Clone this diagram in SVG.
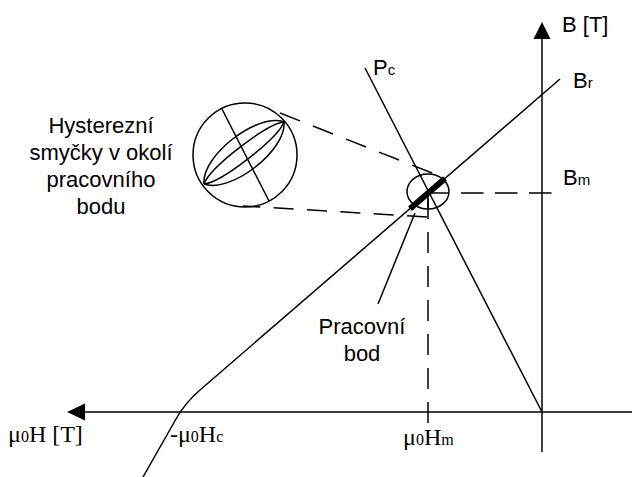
<svg xmlns="http://www.w3.org/2000/svg" width="632" height="477" viewBox="0 0 632 477">
<style>
.ln{fill:none;stroke:#000;stroke-width:1.5}
.thick{fill:none;stroke:#000;stroke-width:6}
.ds{fill:none;stroke:#000;stroke-width:1.5;stroke-dasharray:21.5 14}
.sans{font-family:"Liberation Sans",Arial,sans-serif;font-size:22px;fill:#000}
.serif{font-family:"Liberation Serif","Times New Roman",serif;font-size:24px;fill:#000}
.sub{font-size:15px}
.ssub{font-size:16px}
</style>
<rect width="632" height="477" fill="#fff"/>
<g id="axis-h">
<line class="ln" x1="84" y1="412" x2="632" y2="412"/>
<polygon points="67,412 85,403.5 85,420.5" fill="#000"/>
</g>
<g id="axis-v">
<line class="ln" x1="542" y1="38" x2="542" y2="452"/>
<polygon points="542,22 533.5,39 550.5,39" fill="#000"/>
</g>
<g id="connectors">
<path class="ln" d="M143,477 L176,419 Q185,403 200,390 L560,79"/>
<line class="ln" x1="365" y1="68" x2="542" y2="412"/>
<line class="thick" x1="410" y1="208.7" x2="445" y2="178.4"/>
<line class="ln" x1="428" y1="192" x2="428" y2="210"/>
<line class="ds" x1="428" y1="198" x2="428" y2="423" style="stroke-dasharray:21 13"/>
<line class="ln" x1="428" y1="193" x2="449" y2="193"/>
<line class="ds" x1="461" y1="193" x2="555" y2="193" style="stroke-dasharray:22.5 11.5"/>
<line class="ds" x1="280" y1="113" x2="437" y2="175"/>
<line class="ds" x1="427" y1="217" x2="243" y2="206" style="stroke-dasharray:20 13.4"/>
<line class="ln" x1="415" y1="213" x2="378" y2="304"/>
</g>
<g id="working-point">
<ellipse class="ln" cx="428" cy="191.5" rx="21" ry="17.5"/>
</g>
<g id="loops-detail">
<circle class="ln" cx="245" cy="155" r="52"/>
<line class="ln" x1="222" y1="109" x2="269" y2="201"/>
<path class="ln" d="M204,184 C201.3,155.7 257.3,112.3 284,122"/>
<path class="ln" d="M204,184 C210.3,167.3 266.3,123.9 284,122"/>
<path class="ln" d="M204,184 C221.7,182.1 277.7,138.7 284,122"/>
<path class="ln" d="M204,184 C230.7,193.7 286.7,150.3 284,122"/>
</g>
<g id="labels">
<text class="sans" x="562" y="32">B [T]</text>
<text class="sans" x="573" y="88">B<tspan class="sub">r</tspan></text>
<text class="sans" x="563" y="185">B<tspan class="sub">m</tspan></text>
<text class="sans" x="373" y="75">P<tspan class="sub">c</tspan></text>
<text class="sans" text-anchor="middle" x="101" y="133">Hysterezní</text>
<text class="sans" text-anchor="middle" x="101" y="160">smyčky v okolí</text>
<text class="sans" text-anchor="middle" x="101" y="187">pracovního</text>
<text class="sans" text-anchor="middle" x="101" y="214">bodu</text>
<text class="sans" text-anchor="middle" x="362" y="334">Pracovní</text>
<text class="sans" text-anchor="middle" x="362" y="361">bod</text>
<text class="serif" x="8" y="442">μ<tspan class="ssub">0</tspan>H [T]</text>
<text class="serif" x="170" y="442">-μ<tspan class="ssub">0</tspan>H<tspan class="ssub">c</tspan></text>
<text class="serif" x="403" y="445">μ<tspan class="ssub">0</tspan>H<tspan class="ssub">m</tspan></text>
</g>
</svg>
